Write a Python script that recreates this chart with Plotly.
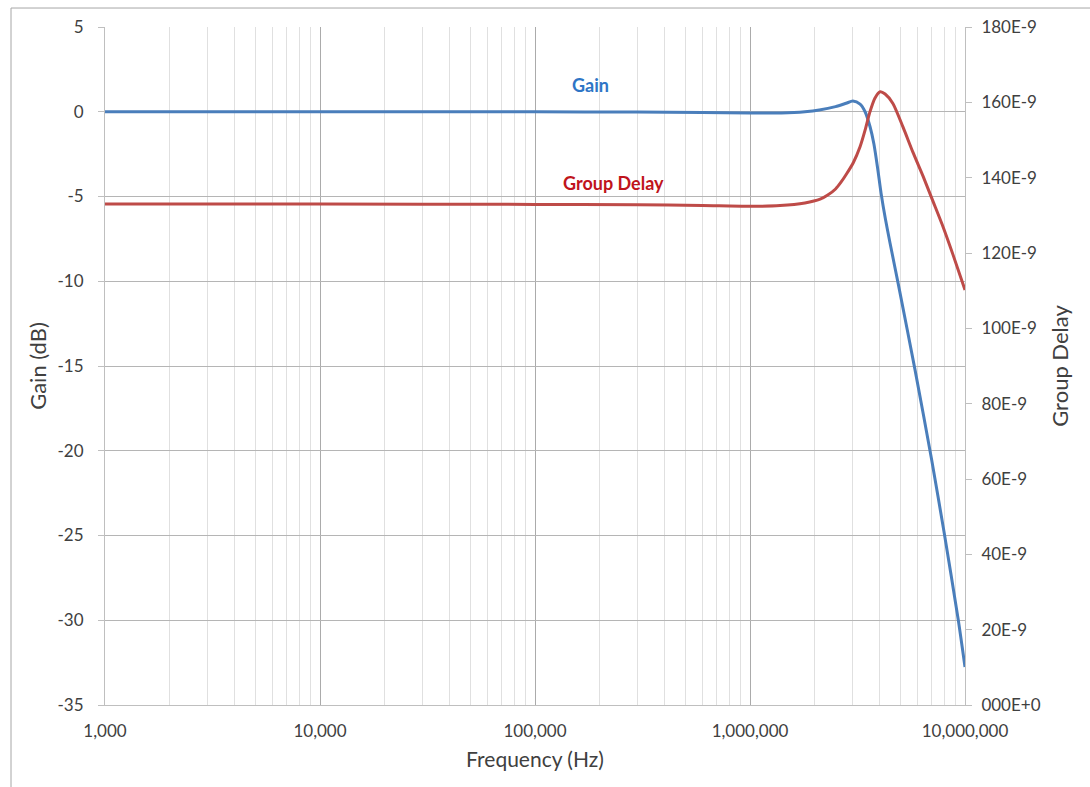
import plotly.graph_objects as go

# Frequency response of the filter: gain (dB) and group delay (ns)
gain_freq_hz = [1e3, 3e3, 1e4, 3e4, 1e5, 3e5, 6e5, 1.0e6, 1.4e6, 1.8e6, 2.1e6, 2.5e6,
                2.8e6, 3.01e6, 3.25e6, 3.43e6, 3.62e6, 3.77e6, 3.92e6, 4.07e6, 4.26e6,
                4.48e6, 4.90e6, 5.85e6, 7.00e6, 7.99e6, 9.31e6, 1.0e7]
gain_db = [0.0, 0.0, 0.0, 0.0, 0.0, -0.02, -0.05, -0.08, -0.07, 0.0, 0.1, 0.3,
           0.5, 0.63, 0.45, 0.0, -0.9, -1.9, -3.3, -4.8, -6.3,
           -7.74, -10.2, -15.2, -20.55, -24.8, -30.0, -32.76]

delay_freq_hz = [1e3, 1e4, 1e5, 3e5, 6e5, 1.0e6, 1.38e6, 1.8e6, 2.12e6, 2.3e6, 2.5e6,
                 2.65e6, 2.82e6, 3.03e6, 3.25e6, 3.43e6, 3.61e6, 3.81e6, 4.03e6, 4.25e6,
                 4.62e6, 5.15e6, 5.73e6, 6.38e6, 7.10e6, 7.91e6, 8.80e6, 1.0e7]
delay_ns = [133.0, 133.0, 132.9, 132.8, 132.6, 132.4, 132.6, 133.3, 134.3, 135.4, 137.0,
            138.8, 141.1, 144.1, 148.2, 152.6, 157.4, 161.1, 162.8, 162.2,
            159.7, 153.4, 146.7, 140.4, 133.7, 126.9, 119.5, 110.2]

x_tick_vals = [1e3, 1e4, 1e5, 1e6, 1e7]
x_tick_text = ["1,000", "10,000", "100,000", "1,000,000", "10,000,000"]
x_minor_vals = [m * d for d in [1e3, 1e4, 1e5, 1e6] for m in range(2, 10)]

gain_ticks = [5, 0, -5, -10, -15, -20, -25, -30, -35]
gain_tick_text = ["5", "0", "-5", "-10", "-15", "-20", "-25", "-30", "-35"]
delay_tick_ns = [0, 20, 40, 60, 80, 100, 120, 140, 160, 180]
delay_tick_text = ["000E+0", "20E-9", "40E-9", "60E-9", "80E-9", "100E-9",
                   "120E-9", "140E-9", "160E-9", "180E-9"]

FONT = "Lato, 'Open Sans', sans-serif"
TXT = "#404040"

fig = go.Figure()
fig.add_trace(go.Scatter(
    x=gain_freq_hz, y=gain_db, mode="lines", name="Gain",
    line=dict(color="#4A7EBB", width=3, shape="spline", smoothing=0.7),
    yaxis="y"))
fig.add_trace(go.Scatter(
    x=delay_freq_hz, y=[v * 1e-9 for v in delay_ns], mode="lines", name="Group Delay",
    line=dict(color="#BE4B48", width=3, shape="spline", smoothing=0.7),
    yaxis="y2"))

fig.update_layout(
    width=1090, height=787,
    margin=dict(l=105, r=125, t=27, b=82),
    paper_bgcolor="white", plot_bgcolor="white",
    showlegend=False,
    font=dict(family=FONT, size=17, color=TXT),
    xaxis=dict(
        type="log", range=[3, 7],
        tickmode="array", tickvals=x_tick_vals, ticktext=x_tick_text,
        showgrid=True, gridcolor="#ababab", gridwidth=1,
        minor=dict(tickmode="array", tickvals=x_minor_vals, showgrid=True,
                   gridcolor="#e0e0e0", gridwidth=1, ticks=""),
        showline=True, linecolor="#bfbfbf", linewidth=1,
        ticks="", ticklabelstandoff=11,
        tickfont=dict(size=17, color=TXT),
        title=dict(text="Frequency (Hz)", font=dict(size=21, color=TXT), standoff=11),
        zeroline=False,
    ),
    yaxis=dict(
        range=[-35, 5], tickmode="array", tickvals=gain_ticks, ticktext=gain_tick_text,
        showgrid=True, gridcolor="#b5b5b5", gridwidth=1,
        showline=True, linecolor="#bfbfbf", linewidth=1,
        ticks="outside", ticklen=6, tickcolor="#bfbfbf",
        tickfont=dict(size=17, color=TXT), ticklabelstandoff=11,
        title=dict(text="Gain (dB)", font=dict(size=22, color=TXT), standoff=4),
        zeroline=False,
    ),
    yaxis2=dict(
        overlaying="y", side="right", range=[0, 180e-9],
        tickmode="array", tickvals=[v * 1e-9 for v in delay_tick_ns], ticktext=delay_tick_text,
        showgrid=False, zeroline=False,
        showline=True, linecolor="#bfbfbf", linewidth=1,
        ticks="outside", ticklen=6, tickcolor="#bfbfbf",
        tickfont=dict(size=17, color=TXT), ticklabelstandoff=6,
        title=dict(text="Group Delay", font=dict(size=22, color=TXT), standoff=12),
    ),
    annotations=[
        dict(x=5.26, y=1.55, xref="x", yref="y", text="<b>Gain</b>", showarrow=False,
             font=dict(size=18, color="#2E75C6", family=FONT)),
        dict(x=5.367, y=-4.2, xref="x", yref="y", text="<b>Group Delay</b>", showarrow=False,
             font=dict(size=18, color="#C0141C", family=FONT)),
    ],
    shapes=[
        dict(type="rect", xref="paper", yref="paper",
             x0=-0.1093, x1=1.3, y0=-0.3, y1=1.028,
             line=dict(color="#a6a6a6", width=1), fillcolor="rgba(0,0,0,0)", layer="below"),
    ],
)

fig.write_html("out.html")
